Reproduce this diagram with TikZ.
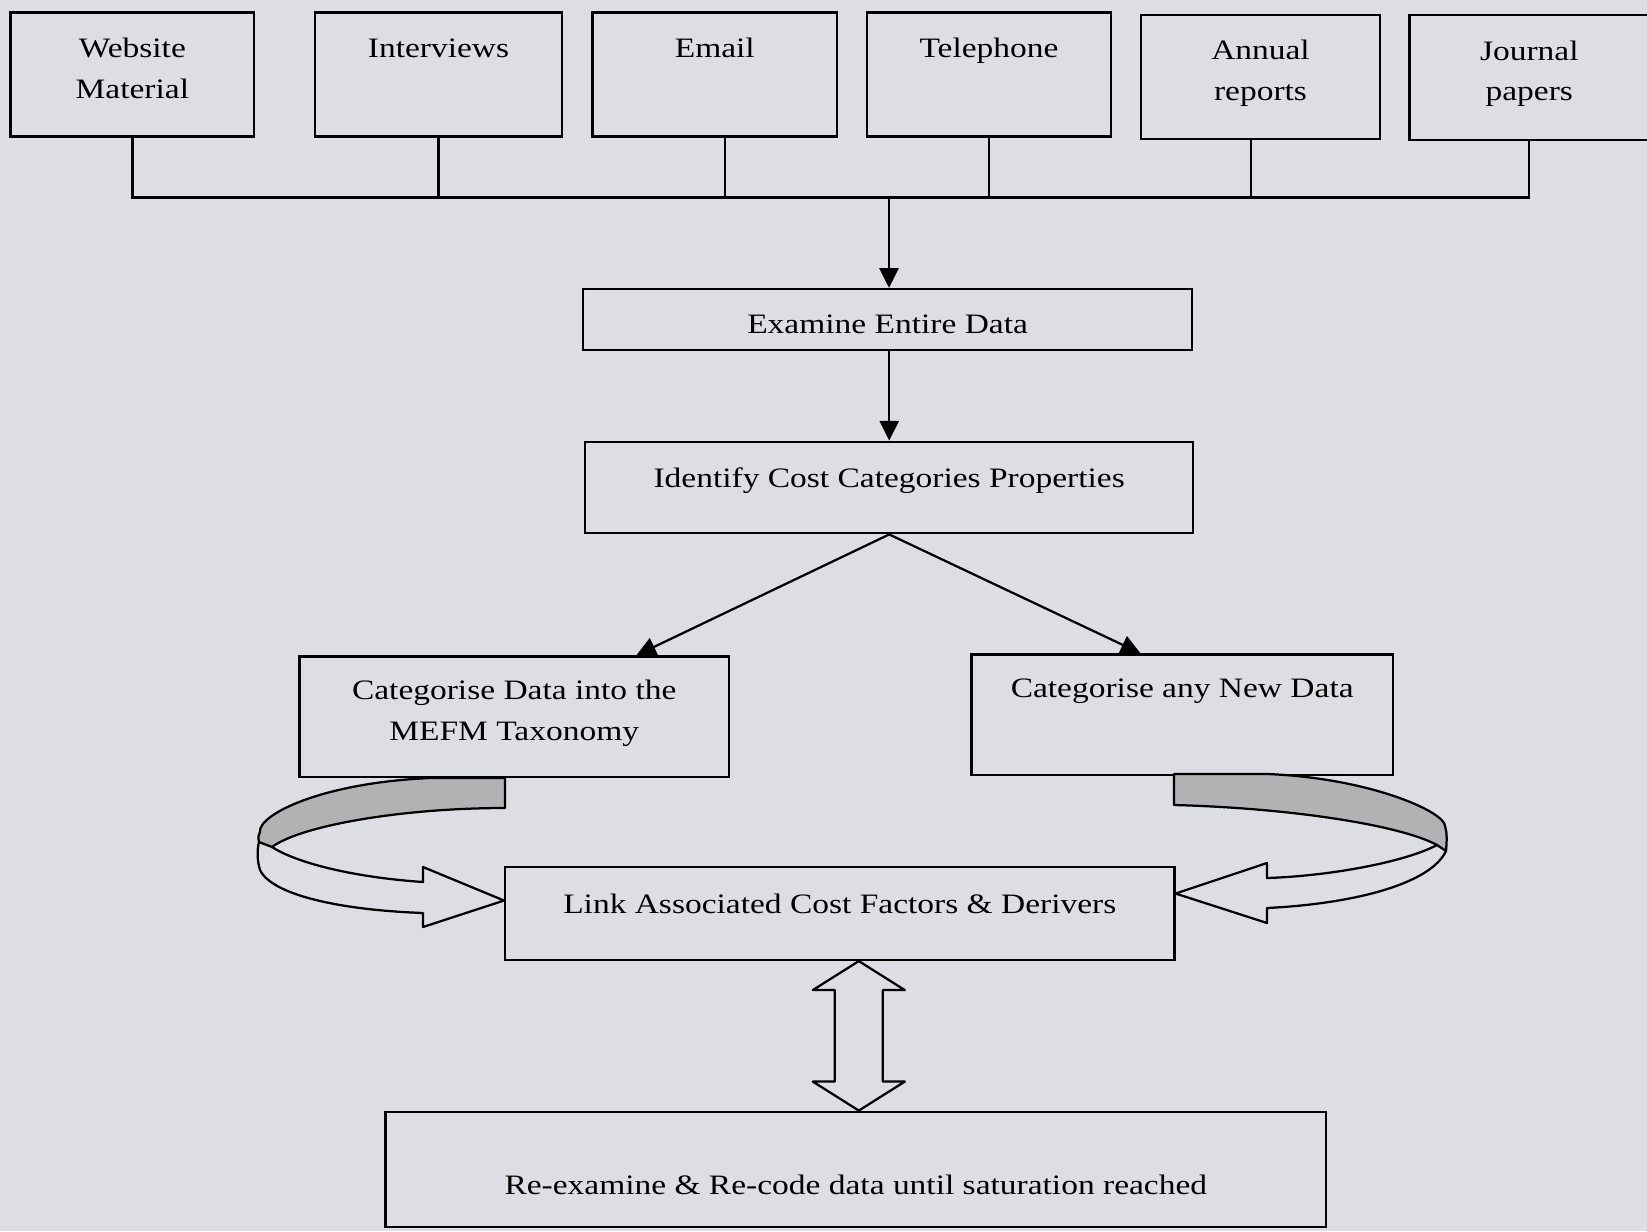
\documentclass[tikz,border=0pt]{standalone}
\usepackage{fontspec}
\setmainfont{Liberation Serif}[FakeStretch=1.19]
\usetikzlibrary{calc, arrows.meta}
\definecolor{paper}{RGB}{221,222,227}
\definecolor{band}{RGB}{178,178,180}
\newcommand{\unitpx}{0.0125cm}

\begin{document}
\begin{tikzpicture}[
x=\unitpx, y=-\unitpx,
font=\fontsize{10}{14.5}\selectfont,
    boxsize/.style 2 args={minimum width=#1*\unitpx, minimum height=#2*\unitpx},
    srcbox/.style={rectangle, draw, line width=0.8pt, align=center, text height=21.5pt, text depth=4.7pt},
    stepbox/.style={rectangle, draw, line width=0.8pt, align=center},
    line/.style={draw, line width=0.8pt},
    arr/.style={draw, line width=0.8pt, -{Triangle[length=7pt, width=6.8pt]}},
    ribbon/.style={draw, line width=0.8pt, line join=round}
]
    \useasboundingbox (0,0) rectangle (1647,1231);
    \fill[paper] (0,0) rectangle (1647,1231);

    % Data sources
    \node[srcbox, boxsize={243.7}{124}] (web) at (132.4,74.6) {Website\\Material};
    \node[srcbox, boxsize={246.9}{124}] (intv) at (438.5,74.6) {Interviews\\~};
    \node[srcbox, boxsize={244.8}{124}] (email) at (714.8,74.6) {Email\\~};
    \node[srcbox, boxsize={244.7}{124}] (tel) at (989,74.6) {Telephone\\~};
    \node[srcbox, boxsize={239.5}{124}] (annual) at (1260.5,76.7) {Annual\\reports};
    \node[srcbox, boxsize={239.4}{125}] (jour) at (1529.3,77.2) {Journal\\papers};

    % Steps
    \node[stepbox, boxsize={609.2}{61.1}, text height=9.8pt, text depth=0pt] (exam) at (887.6,319.5) {Examine Entire Data};
    \node[stepbox, boxsize={608.2}{91.6}, text height=7pt, text depth=6.7pt] (ident) at (889.2,487.5) {Identify Cost Categories Properties};
    \node[srcbox, boxsize={429.6}{120.8}] (catA) at (514.2,716.9) {Categorise Data into the\\MEFM Taxonomy};
    \node[srcbox, boxsize={421.2}{120.8}] (catB) at (1182.2,714.8) {Categorise any New Data\\~};
    \node[stepbox, boxsize={669.2}{93.3}, text height=7pt, text depth=6.7pt] (link) at (839.8,913.3) {Link Associated Cost Factors \& Derivers};
    \node[stepbox, boxsize={940.5}{115}, text height=18pt, text depth=0pt] (redo) at (855.8,1169.2) {Re-examine \& Re-code data until saturation reached};

    % Bus from the sources
    \coordinate (bus) at (889,197.5);
    \foreach \b/\dx in {web/0, intv/0, email/10, tel/0, annual/-9.5, jour/0}
        \draw[line] ($(\b.south)+(\dx,0)$) |- (bus);
    \draw[arr] (bus) -- (bus |- exam.north);
    \draw[arr] (ident.north |- exam.south) -- (ident.north);

    % Split into the two categories
    \draw[arr] (ident.south) -- ($(catA.north west)+(338,0)$);
    \draw[arr] (ident.south) -- ($(catB.north west)+(170,0)$);

    % Loops into the link box
    \coordinate (ltip) at ($(link.north west)+(0,35)$);
    \coordinate (rtip) at ($(link.north east)+(0,28)$);
    \filldraw[ribbon, fill=band] (505,778) -- (505,808) .. controls (400,808) and (300,826) .. (272,847)
        -- (259,842) .. controls (258,838) and (258,835) .. (260,832)
        .. controls (258,815) and (320,783) .. (430,778) -- cycle;
    \draw[ribbon] (272,847) .. controls (295,862) and (350,877) .. (423,882) -- (423,867) -- (ltip)
        -- (423,927) -- (423,913) .. controls (340,910) and (272,895) .. (260,870)
        .. controls (257,860) and (257,850) .. (259,842);
    \filldraw[ribbon, fill=band] (1174,774) -- (1174,805) .. controls (1290,808) and (1400,825) .. (1437,845)
        -- (1446,851) .. controls (1447,840) and (1447,832) .. (1445,826)
        .. controls (1445,812) and (1370,778) .. (1267,774) -- cycle;
    \draw[ribbon] (1437,845) .. controls (1405,862) and (1330,876) .. (1267,878) -- (1267,863) -- (rtip)
        -- (1267,923) -- (1267,908) .. controls (1350,904) and (1430,885) .. (1446,851);

    % Two-way arrow
    \coordinate (dtop) at ($(link.south)+(19,0)$);
    \coordinate (dbot) at ($(redo.north)+(3,0)$);
    \draw[ribbon] (dtop) -- ++(46,29) -- ++(-22,0) -- ($(dbot)+(24,-29)$) -- ++(22,0) -- (dbot)
        -- ++(-46,-29) -- ++(22,0) -- ($(dtop)+(-24,29)$) -- ++(-22,0) -- cycle;

\end{tikzpicture}
\end{document}
